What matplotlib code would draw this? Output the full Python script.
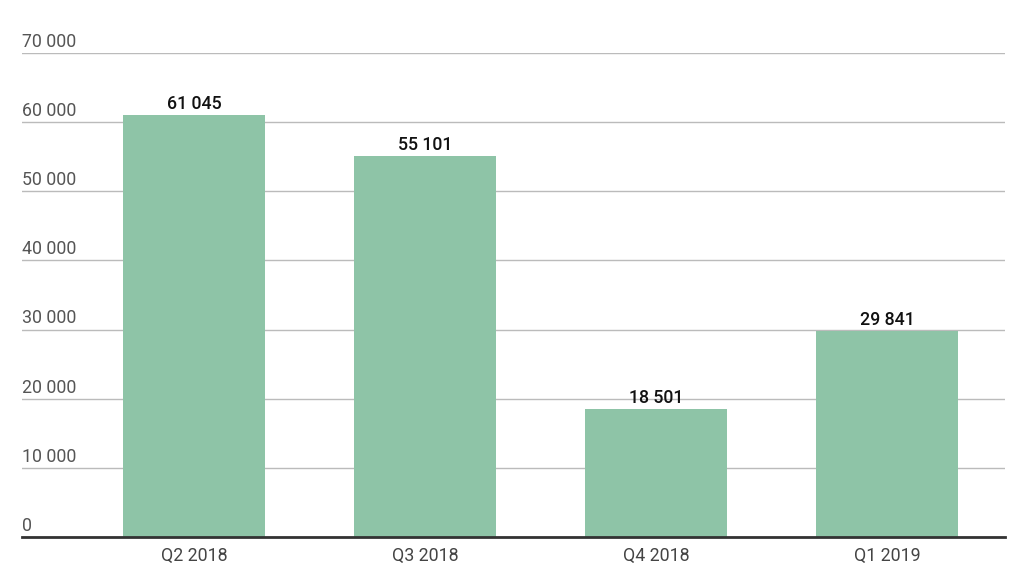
import matplotlib
matplotlib.use("Agg")
import matplotlib.pyplot as plt
import matplotlib.transforms as mtransforms

categories = ["Q2 2018", "Q3 2018", "Q4 2018", "Q1 2019"]
values = [61045, 55101, 18501, 29841]
yticks = [0, 10000, 20000, 30000, 40000, 50000, 60000, 70000]

def fmt(v):
    return f"{v:,}".replace(",", " ")

plt.rcParams['font.family'] = ['Roboto', 'DejaVu Sans']

W, H = 1024, 576
fig = plt.figure(figsize=(W / 100, H / 100), dpi=100)
left_px, right_px, top_px, bottom_px = 22, 1005, 53, 537
ax = fig.add_axes([left_px / W, (H - bottom_px) / H,
                   (right_px - left_px) / W, (bottom_px - top_px) / H])

xs = list(range(len(categories)))
ax.bar(xs, values, width=0.615, color="#8ec4a7", zorder=3)

ax.set_xlim(-0.745, 3.511)
ax.set_ylim(0, 70000)

for s in ["top", "right", "left"]:
    ax.spines[s].set_visible(False)
ax.spines["bottom"].set_color("#333333")
ax.spines["bottom"].set_linewidth(2)
ax.spines["bottom"].set_zorder(4)

ax.set_yticks(yticks)
ax.set_yticklabels([])
ax.tick_params(axis="y", length=0)
ax.grid(axis="y", color="#bbbbbb", linewidth=1, zorder=0)

ax.set_xticks(xs)
ax.set_xticklabels(categories, fontsize=12.8, color="#444444")
ax.tick_params(axis="x", length=0, pad=7)

trans = mtransforms.blended_transform_factory(ax.transAxes, ax.transData)
trans = mtransforms.offset_copy(trans, fig=fig, x=0, y=1.5, units="points")
for t in yticks:
    ax.text(0, t, fmt(t), transform=trans, ha="left", va="bottom",
            fontsize=12.8, color="#555555")

vt = mtransforms.offset_copy(ax.transData, fig=fig, x=0, y=1.5, units="points")
for x, v in zip(xs, values):
    ax.text(x, v, fmt(v), transform=vt, ha="center", va="bottom",
            fontsize=12.8, color="#111111", fontweight="medium", zorder=5)

fig.savefig("out.png", dpi=100)
